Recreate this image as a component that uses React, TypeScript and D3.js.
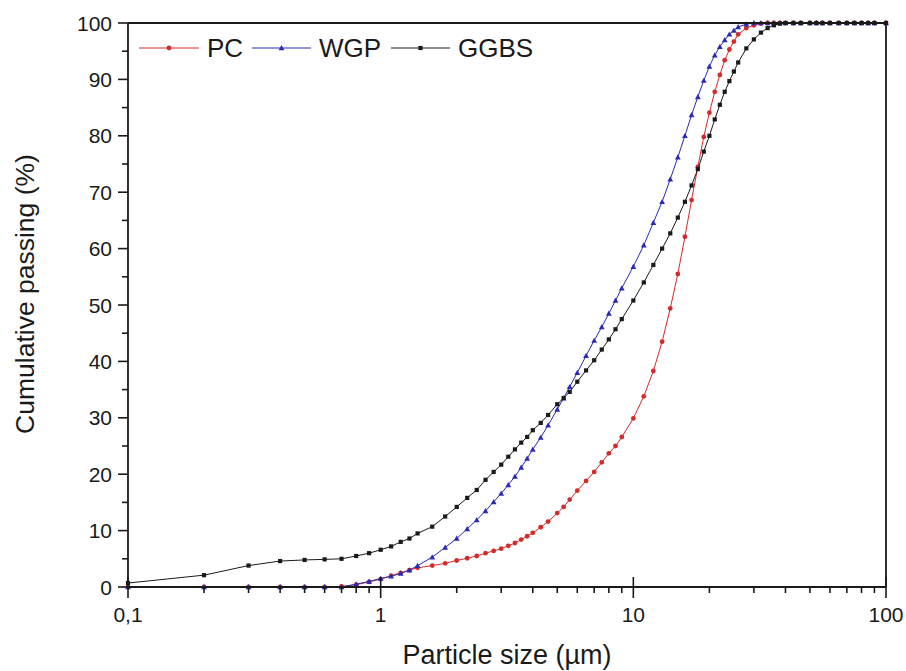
import React from "react";
import * as d3 from "d3";

const sizes = [0.1, 0.2, 0.3, 0.4, 0.5, 0.6, 0.7, 0.8, 0.9, 1.0,
  1.1, 1.2, 1.3, 1.4, 1.6, 1.8, 2.0, 2.2, 2.4, 2.6,
  2.8, 3.0, 3.2, 3.4, 3.6, 3.8, 4.0, 4.3, 4.6, 5.0,
  5.3, 5.6, 6.0, 6.5, 7.0, 7.5, 8.0, 8.5, 9.0, 10,
  11, 12, 13, 14, 15, 16, 17, 18, 19, 20,
  21, 22, 23, 24, 25, 26, 28, 30, 32, 34,
  36, 38, 40, 43, 46, 50, 53, 56, 60, 65,
  70, 75, 80, 85, 90, 100];

const pcValues = [0, 0, 0, 0, 0, 0, 0.1, 0.4, 0.9, 1.4,
  2.0, 2.5, 3.0, 3.4, 3.8, 4.2, 4.7, 5.1, 5.5, 6.0,
  6.4, 6.8, 7.3, 7.8, 8.4, 9.0, 9.6, 10.6, 11.6, 13.1,
  14.2, 15.5, 17.1, 18.8, 20.4, 22.1, 23.7, 25.0, 26.6, 29.9,
  33.8, 38.3, 43.5, 49.4, 55.5, 62.1, 68.6, 74.5, 79.8, 84.1,
  87.8, 90.8, 93.4, 95.3, 96.7, 98.0, 99.1, 99.6, 99.9, 100,
  100, 100, 100, 100, 100, 100, 100, 100, 100, 100,
  100, 100, 100, 100, 100, 100];

const wgpValues = [0, 0, 0, 0, 0, 0, 0, 0.5, 1.0, 1.5,
  1.9, 2.4, 3.0, 3.8, 5.3, 7.0, 8.6, 10.3, 11.9, 13.5,
  15.1, 16.6, 18.1, 19.6, 21.2, 22.8, 24.4, 26.5, 28.7, 31.5,
  33.5, 35.5, 38.0, 41.0, 43.7, 46.1, 48.5, 50.8, 53.0, 56.8,
  60.6, 64.6, 68.3, 72.3, 76.2, 80.0, 83.7, 86.9, 89.8, 92.3,
  94.3, 95.8, 97.0, 98.0, 98.7, 99.3, 99.8, 100, 100, 100,
  100, 100, 100, 100, 100, 100, 100, 100, 100, 100,
  100, 100, 100, 100, 100, 100];

const ggbsValues = [0.7, 2.1, 3.8, 4.6, 4.8, 4.9, 5.0, 5.5, 6.0, 6.6,
  7.2, 8.0, 8.6, 9.5, 10.7, 12.5, 14.2, 15.8, 17.2, 19.0,
  20.4, 21.7, 23.1, 24.4, 25.6, 26.6, 27.8, 29.1, 30.5, 32.4,
  33.5, 34.6, 36.4, 38.4, 40.2, 42.1, 43.9, 45.7, 47.5, 50.8,
  54.0, 57.1, 60.0, 62.7, 65.5, 68.3, 71.2, 74.1, 77.2, 80.0,
  82.9, 85.5, 87.8, 89.7, 91.4, 93.0, 95.5, 97.1, 98.3, 99.1,
  99.6, 99.9, 100, 100, 100, 100, 100, 100, 100, 100,
  100, 100, 100, 100, 100, 100];

const seriesNames = ["PC", "WGP", "GGBS"];
const seriesColors = ["#d42a2a", "#2a2ab4", "#1a1a1a"];
const seriesMarkers = ["circle", "triangle", "square"];
const seriesData = [pcValues, wgpValues, ggbsValues];

const xMajorTicks = [0.1, 1, 10, 100];
const xTickLabels = ["0,1", "1", "10", "100"];
const yMajorTicks = [0, 10, 20, 30, 40, 50, 60, 70, 80, 90, 100];

const FONT = "'Liberation Sans', Arial, sans-serif";

function Marker({ type, x, y, color }: { type: string; x: number; y: number; color: string }) {
  if (type === "circle") return <circle cx={x} cy={y} r={2.4} fill={color} />;
  if (type === "square") return <rect x={x - 2.1} y={y - 2.1} width={4.2} height={4.2} fill={color} />;
  const s = 2.9;
  return <path d={`M${x},${y - s}L${x + s},${y + s * 0.8}L${x - s},${y + s * 0.8}Z`} fill={color} />;
}

export default function App() {
  const W = 906, H = 671;
  const left = 128, right = 886, top = 23, bottom = 587;
  const x = d3.scaleLog().domain([0.1, 100]).range([left, right]);
  const y = d3.scaleLinear().domain([0, 100]).range([bottom, top]);

  const minorX: number[] = [];
  for (let d = 0.1; d < 100; d *= 10) {
    for (let k = 2; k <= 9; k++) minorX.push(+(d * k).toFixed(4));
  }
  const minorY = d3.range(5, 100, 10);

  const line = d3.line<[number, number]>().x((d) => x(d[0])).y((d) => y(d[1]));

  const legendItems = [
    { x0: 139, x1: 199, tx: 207 },
    { x0: 252, x1: 311, tx: 319 },
    { x0: 391, x1: 450, tx: 458 },
  ];
  const legendY = 48;

  return (
    <div style={{ position: "absolute", left: 0, top: 0 }}>
      <svg width={W} height={H} style={{ display: "block", background: "#fff" }}>
        <rect x={0} y={0} width={W} height={H} fill="#fff" />
        {seriesData.map((vals, si) => {
          const pts: [number, number][] = sizes.map((s, i) => [s, vals[i]]);
          return (
            <g key={si}>
              <path d={line(pts) || ""} fill="none" stroke={seriesColors[si]} strokeWidth={1} />
              {pts.map((p, i) => (
                <Marker key={i} type={seriesMarkers[si]} x={x(p[0])} y={y(p[1])} color={seriesColors[si]} />
              ))}
            </g>
          );
        })}
        <g stroke="#1a1a1a" strokeWidth={1.8} fill="none">
          <line x1={left} y1={top} x2={right} y2={top} />
          <line x1={right} y1={top} x2={right} y2={bottom} />
          <line x1={left} y1={top} x2={left} y2={bottom} />
          <line x1={left} y1={bottom} x2={right} y2={bottom} />
        </g>
        <g stroke="#1a1a1a" strokeWidth={1.6}>
          {xMajorTicks.map((t) => (
            <line key={t} x1={x(t)} x2={x(t)} y1={bottom - 10} y2={bottom + 11} />
          ))}
          {minorX.map((t) => (
            <line key={t} x1={x(t)} x2={x(t)} y1={bottom} y2={bottom + 6} />
          ))}
          {yMajorTicks.map((t) => (
            <line key={t} x1={left - 10} x2={left} y1={y(t)} y2={y(t)} />
          ))}
          {minorY.map((t) => (
            <line key={t} x1={left - 6} x2={left} y1={y(t)} y2={y(t)} />
          ))}
        </g>
        <g fontFamily={FONT} fontSize={21} fill="#1a1a1a">
          {xMajorTicks.map((t, i) => (
            <text key={t} x={x(t)} y={622} textAnchor="middle">{xTickLabels[i]}</text>
          ))}
          {yMajorTicks.map((t) => (
            <text key={t} x={112} y={y(t) + 7.5} textAnchor="end">{t}</text>
          ))}
        </g>
        <text x={507} y={664} textAnchor="middle" fontFamily={FONT} fontSize={27} fill="#1a1a1a">
          Particle size (µm)
        </text>
        <text transform="translate(34,294) rotate(-90)" textAnchor="middle" fontFamily={FONT} fontSize={26.5} fill="#1a1a1a">
          Cumulative passing (%)
        </text>
        {legendItems.map((li, i) => (
          <g key={i}>
            <line x1={li.x0} x2={li.x1} y1={legendY} y2={legendY} stroke={seriesColors[i]} strokeWidth={1} />
            <Marker type={seriesMarkers[i]} x={(li.x0 + li.x1) / 2} y={legendY} color={seriesColors[i]} />
            <text x={li.tx} y={57} fontFamily={FONT} fontSize={26} fill="#1a1a1a">{seriesNames[i]}</text>
          </g>
        ))}
      </svg>
    </div>
  );
}
